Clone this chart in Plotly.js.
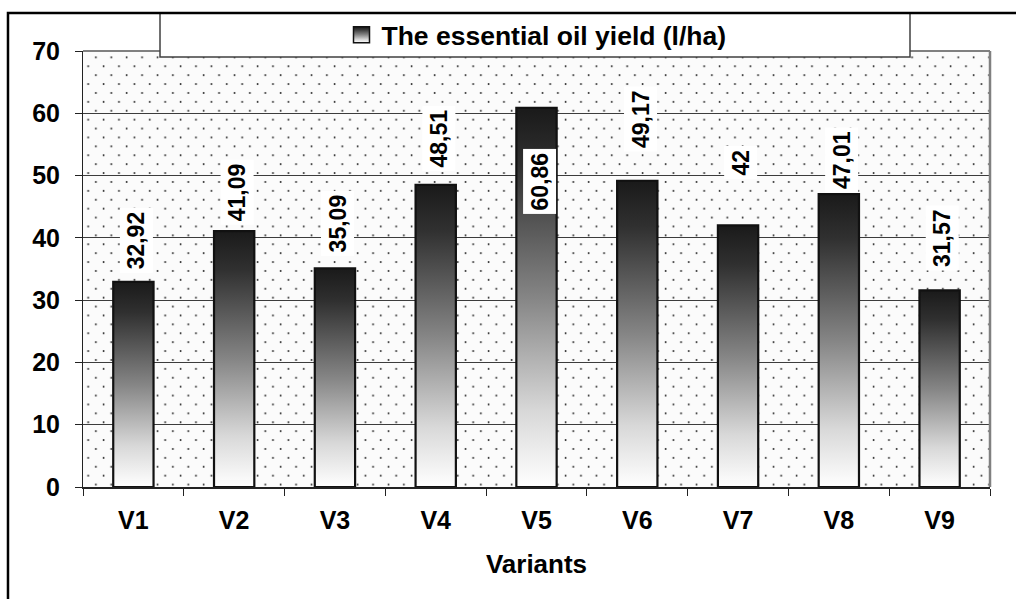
<!DOCTYPE html>
<html>
<head>
<meta charset="utf-8">
<script src="https://cdn.plot.ly/plotly-3.0.1.min.js"></script>
<style>
html,body{margin:0;padding:0;background:#fff;}
#chart{width:1016px;height:599px;}
</style>
</head>
<body>
<div id="chart"></div>
<script>
// ---- data ----
const categories = ["V1","V2","V3","V4","V5","V6","V7","V8","V9"];
const oilYield = [32.92, 41.09, 35.09, 48.51, 60.86, 49.17, 42, 47.01, 31.57];
const seriesName = "The essential oil yield (l/ha)";
const xTitle = "Variants";
const yTicks = [0,10,20,30,40,50,60,70];

// ---- layout helpers (label placement in px, not data) ----
const labelShift = [42, 39, 45, 46, -74, 62, 63, 34, 52];

const FONT = "Liberation Sans, Arial, Helvetica, sans-serif";
const fmt = v => String(v).replace('.', ',');

const trace = {
  type: 'bar',
  x: categories,
  y: oilYield,
  name: seriesName,
  marker: {color: '#888', line: {color: '#111', width: 2.2}},
  hoverinfo: 'skip',
  showlegend: true
};

const annotations = categories.map((c, i) => ({
  x: c, y: oilYield[i], xref: 'x', yref: 'y',
  text: fmt(oilYield[i]),
  textangle: -90,
  showarrow: false,
  yanchor: 'middle', xanchor: 'center',
  yshift: labelShift[i], xshift: 3,
  bgcolor: '#ffffff',
  borderpad: 3,
  font: {family: FONT, size: 23, color: '#000', weight: 'bold'}
}));

const layout = {
  width: 1016, height: 599,
  margin: {l: 83, r: 26, t: 51, b: 112, autoexpand: false},
  paper_bgcolor: '#ffffff',
  plot_bgcolor: '#fbfbfb',
  font: {family: FONT, size: 24, color: '#000', weight: 'bold'},
  bargap: 0.6,
  showlegend: true,
  legend: {
    x: 0.5, y: 1.0367, xanchor: 'center', yanchor: 'middle',
    orientation: 'h', bgcolor: 'rgba(0,0,0,0)', borderwidth: 0,
    font: {family: FONT, size: 26.5, color: '#000', weight: 'bold'}
  },
  xaxis: {
    type: 'category', range: [-0.5, 8.5],
    showline: true, linecolor: '#222', linewidth: 2,
    ticks: 'outside', tickson: 'boundaries', ticklen: 7, tickcolor: '#222', tickwidth: 1,
    tickfont: {family: FONT, size: 25, color: '#000', weight: 'bold'},
    ticklabelstandoff: 10,
    showgrid: false,
    title: {text: xTitle, standoff: 22, font: {family: FONT, size: 26, color: '#000', weight: 'bold'}}
  },
  yaxis: {
    range: [0, 70], tickvals: yTicks, ticktext: yTicks.map(String),
    showline: true, linecolor: '#222', linewidth: 1,
    ticks: 'outside', ticklen: 7, tickcolor: '#222', tickwidth: 1,
    tickfont: {family: FONT, size: 25, color: '#000', weight: 'bold'},
    ticklabelstandoff: 10,
    showgrid: true, gridcolor: '#3c3c3c', gridwidth: 1,
    zeroline: false
  },
  annotations: annotations,
  shapes: [
    // plot area top & right border
    {type: 'line', xref: 'paper', yref: 'paper', x0: 0, x1: 1, y0: 1, y1: 1, line: {color: '#808080', width: 2}},
    {type: 'line', xref: 'paper', yref: 'paper', x0: 1, x1: 1, y0: 0, y1: 1, line: {color: '#808080', width: 2.5}},
    // legend box
    {type: 'rect', xref: 'paper', yref: 'paper', x0: 0.0849, x1: 0.9118, y0: 0.9862, y1: 1.0872,
     fillcolor: '#ffffff', line: {color: '#404040', width: 1.5}},
    // outer chart frame
    {type: 'rect', xref: 'paper', yref: 'paper', x0: -0.0827, x1: 1.5, y0: -0.5, y1: 1.0872,
     fillcolor: 'rgba(0,0,0,0)', line: {color: '#000', width: 2.5}}
  ]
};

const gd = document.getElementById('chart');
Plotly.newPlot(gd, [trace], layout, {displayModeBar: false, staticPlot: true}).then(style);

function style() {
  const ns = 'http://www.w3.org/2000/svg';
  const svg = gd.querySelector('svg.main-svg');
  let defs = svg.querySelector('defs');
  if (!defs) { defs = document.createElementNS(ns, 'defs'); svg.insertBefore(defs, svg.firstChild); }

  const grad = document.createElementNS(ns, 'linearGradient');
  grad.setAttribute('id', 'barGrad');
  grad.setAttribute('x1', '0'); grad.setAttribute('y1', '0');
  grad.setAttribute('x2', '0'); grad.setAttribute('y2', '1');
  [[0, '#1a1a1a'], [0.15, '#303030'], [0.5, '#858585'], [0.8, '#d8d8d8'], [1, '#ffffff']].forEach(([o, c]) => {
    const s = document.createElementNS(ns, 'stop');
    s.setAttribute('offset', o); s.setAttribute('stop-color', c);
    grad.appendChild(s);
  });
  defs.appendChild(grad);

  const pat = document.createElementNS(ns, 'pattern');
  pat.setAttribute('id', 'dots');
  pat.setAttribute('patternUnits', 'userSpaceOnUse');
  pat.setAttribute('width', '15.4'); pat.setAttribute('height', '17.8');
  const r = document.createElementNS(ns, 'rect');
  r.setAttribute('width', '15.4'); r.setAttribute('height', '17.8'); r.setAttribute('fill', '#fbfbfb');
  pat.appendChild(r);
  [[3.5, 4], [11.2, 12.9]].forEach(([cx, cy]) => {
    const c = document.createElementNS(ns, 'circle');
    c.setAttribute('cx', cx); c.setAttribute('cy', cy); c.setAttribute('r', '0.95');
    c.setAttribute('fill', '#2a2a2a');
    pat.appendChild(c);
  });
  defs.appendChild(pat);

  gd.querySelectorAll('.barlayer .point path').forEach(p => { p.style.fill = 'url(#barGrad)'; });
  gd.querySelectorAll('.legend .legendpoints path').forEach(p => {
    p.setAttribute('d', 'M8,8H-8V-8H8Z');
    p.style.fill = 'url(#barGrad)';
    p.style.stroke = '#111';
    p.style.strokeWidth = '1.5px';
  });
  const bg = gd.querySelector('.bglayer .bg') || gd.querySelector('rect.bg');
  if (bg) bg.style.fill = 'url(#dots)';
}
</script>
</body>
</html>
